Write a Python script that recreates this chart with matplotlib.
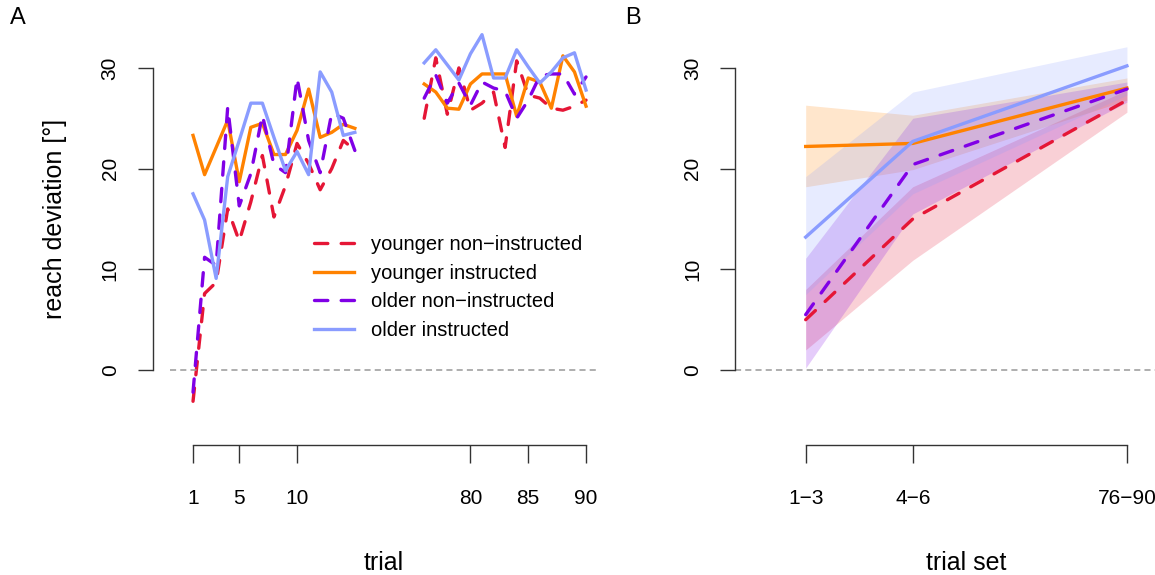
import numpy as np
import matplotlib
matplotlib.use('Agg')
import matplotlib.pyplot as plt
from matplotlib.transforms import blended_transform_factory

plt.rcParams['font.family'] = ['Liberation Sans', 'DejaVu Sans']

# ---- data: panel A, reach deviation per trial ----
trials_early = list(range(1, 16))
trials_late = list(range(76, 91))

yni_early = [-3.1, 7.6, 8.7, 16.0, 12.8, 16.7, 21.3, 15.2, 18.3, 22.5, 20.5, 17.9, 20.0, 22.8, 21.8]
yni_late = [25.0, 31.0, 25.4, 30.0, 25.8, 26.5, 27.6, 22.1, 30.7, 27.3, 27.0, 26.0, 25.8, 26.2, 26.8]
yi_early = [23.3, 19.4, 22.1, 24.8, 18.7, 24.1, 24.5, 21.4, 21.4, 23.8, 27.9, 23.1, 23.6, 24.4, 24.0]
yi_late = [28.4, 27.6, 26.0, 25.9, 28.4, 29.4, 29.4, 29.4, 25.2, 29.0, 28.6, 26.0, 31.2, 29.6, 26.2]
oni_early = [-2.2, 11.2, 10.4, 26.1, 16.3, 19.5, 25.3, 20.4, 19.6, 29.0, 22.8, 19.6, 25.5, 25.0, 21.8]
oni_late = [27.0, 29.3, 26.5, 28.5, 26.3, 28.6, 28.0, 27.7, 25.0, 26.8, 29.2, 29.4, 29.4, 27.4, 29.1]
oi_early = [17.5, 14.9, 9.1, 19.2, 22.8, 26.5, 26.5, 23.1, 19.8, 21.7, 19.4, 29.6, 27.6, 23.3, 23.6]
oi_late = [30.5, 31.8, 30.3, 28.8, 31.4, 33.3, 29.0, 29.0, 31.8, 30.1, 28.5, 29.6, 31.0, 31.5, 27.8]

x_ticks_trials = [1, 5, 10, 80, 85, 90]

# ---- data: panel B, trial sets ----
trial_sets = ['1\u22123', '4\u22126', '76\u221290']
set_pos = [1, 2, 4]

yni_mean = [5.0, 15.0, 26.8]
yni_lo = [2.0, 10.9, 25.6]
yni_hi = [8.0, 18.2, 27.8]
yi_mean = [22.2, 22.5, 28.0]
yi_lo = [18.2, 19.9, 26.8]
yi_hi = [26.3, 25.3, 29.0]
oni_mean = [5.5, 20.4, 27.9]
oni_lo = [0.2, 15.5, 26.6]
oni_hi = [11.1, 25.0, 28.6]
oi_mean = [13.2, 22.7, 30.2]
oi_lo = [7.5, 17.5, 27.3]
oi_hi = [19.2, 27.6, 32.1]

labels = ['younger non\u2212instructed', 'younger instructed',
          'older non\u2212instructed', 'older instructed']
colors = ['#e51636', '#ff8200', '#8000e6', '#8a9cff']
styles = [(0, (4, 4)), '-', (0, (4, 4)), '-']

def trial_pos(t):
    # late trials are drawn after a small gap
    t = np.asarray(t)
    return np.where(t <= 15, t, t - 55)

W, H = 1155, 575
fig = plt.figure(figsize=(W / 100, H / 100), dpi=100)
axA = fig.add_axes([152.8 / W, 130 / H, 461.9 / W, 391.6 / H])
axB = fig.add_axes([735 / W, 130 / H, 462.6 / W, 391.6 / H])

lw = 2.4
series_A = [(yni_early, yni_late), (yi_early, yi_late), (oni_early, oni_late), (oi_early, oi_late)]
for (early, late), c, ls, lab in zip(series_A, colors, styles, labels):
    axA.plot(trial_pos(trials_early), early, color=c, ls=ls, lw=lw,
             dash_capstyle='round', label=lab, clip_on=False)
    axA.plot(trial_pos(trials_late), late, color=c, ls=ls, lw=lw,
             dash_capstyle='round', clip_on=False)

axA.plot([-1, 36], [0, 0], color='#999999', lw=1.1, ls=(0, (4, 2.7)))

# ---- panel B ----
series_B = [(yni_mean, yni_lo, yni_hi), (yi_mean, yi_lo, yi_hi),
            (oni_mean, oni_lo, oni_hi), (oi_mean, oi_lo, oi_hi)]
for (m, lo, hi), c in zip(series_B, colors):
    axB.fill_between(set_pos, lo, hi, color=c, alpha=0.2, lw=0, clip_on=False)
for (m, lo, hi), c, ls in zip(series_B, colors, styles):
    axB.plot(set_pos, m, color=c, ls=ls, lw=lw, dash_capstyle='round')
axB.axhline(0, color='#999999', lw=1.1, ls=(0, (4, 2.7)))

# ---- axes styling (R-like) ----
for ax in (axA, axB):
    ax.set_ylim(-7.44, 31.44)
    for s in ('top', 'right'):
        ax.spines[s].set_visible(False)
    for s in ('left', 'bottom'):
        ax.spines[s].set_color('#333333')
        ax.spines[s].set_linewidth(1.0)
    ax.spines['left'].set_bounds(0, 30)
    ax.set_yticks([0, 10, 20, 30])
    ax.tick_params(axis='y', length=10.8, width=1.0, color='#333333',
                   labelsize=15, pad=13, labelrotation=90)
    ax.tick_params(axis='x', length=12.7, width=1.0, color='#333333',
                   labelsize=15, pad=19)
    for t in ax.get_yticklabels():
        t.set_va('center')

axA.set_xlim(-2.48, 37.48)
axA.spines['bottom'].set_bounds(1, 35)
axA.set_xticks(trial_pos(x_ticks_trials))
axA.set_xticklabels([str(t) for t in x_ticks_trials])

axB.set_xlim(0.34, 4.66)
axB.spines['bottom'].set_bounds(1, 4)
axB.set_xticks(set_pos)
axB.set_xticklabels(trial_sets)

axA.set_xlabel('trial', fontsize=18, va='baseline')
axA.xaxis.set_label_coords(0.5, -0.319)
axB.set_xlabel('trial set', fontsize=18, va='baseline')
axB.xaxis.set_label_coords(0.5, -0.319)

axA.set_ylabel('reach deviation [\u00b0]', fontsize=18, va='center')
axA.yaxis.set_label_coords(-0.2117, 15,
                           transform=blended_transform_factory(axA.transAxes, axA.transData))

leg = axA.legend(loc='upper left', bbox_to_anchor=(314 / W, 1 - 235 / H),
                 bbox_transform=fig.transFigure, frameon=False, fontsize=14.5,
                 borderpad=0, borderaxespad=0, handlelength=2.0,
                 handletextpad=0.85, labelspacing=0.48)

fig.text(18 / W, 1 - 18 / H, 'A', fontsize=17, ha='center', va='center')
fig.text(633 / W, 1 - 18 / H, 'B', fontsize=17, ha='center', va='center')

fig.savefig('out.png', dpi=100)
